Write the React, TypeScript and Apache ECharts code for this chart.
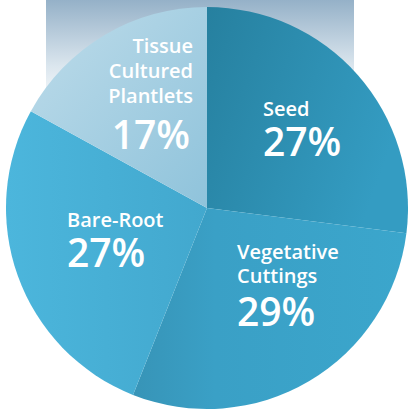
import React, { useEffect, useRef } from "react";
import * as echarts from "echarts";

const categories = ["Seed", "Vegetative Cuttings", "Bare-Root", "Tissue Cultured Plantlets"];
const values = [27, 29, 27, 17];
const percentLabels = ["27%", "29%", "27%", "17%"];

// label layout: anchor x, alignment, baselines of name lines, baseline of percent
const labelX = [263, 237, 67, 193];
const labelAlign = ["left", "left", "left", "right"];
const nameBaselines = [[116], [259, 283], [227], [53, 78, 103]];
const pctBaselines = [155, 325, 266, 148];

const sliceColors = [
  { type: "linear", x: 0, y: 0, x2: 1, y2: 0.4, colorStops: [{ offset: 0, color: "#26809f" }, { offset: 1, color: "#349cc2" }] },
  { type: "linear", x: 0, y: 0.3, x2: 1, y2: 0.3, colorStops: [{ offset: 0, color: "#3794b7" }, { offset: 0.3, color: "#3aa0c6" }, { offset: 1, color: "#3ba6cc" }] },
  { type: "linear", x: 0, y: 0, x2: 1, y2: 0, colorStops: [{ offset: 0, color: "#4cb6dc" }, { offset: 1, color: "#42a8ce" }] },
  { type: "linear", x: 0, y: 0, x2: 1, y2: 1, colorStops: [{ offset: 0, color: "#bedcea" }, { offset: 1, color: "#8fc3db" }] },
];

const NAME_SIZE = 20;
const PCT_SIZE = 39;

export default function App() {
  const ref = useRef<HTMLDivElement>(null);
  useEffect(() => {
    if (!ref.current) return;
    const chart = echarts.init(ref.current, undefined, { renderer: "svg" });
    const texts: any[] = [];
    const shadow = { shadowBlur: 6, shadowColor: "rgba(0,40,70,0.45)" };
    categories.forEach((cat, i) => {
      const words = cat.split(" ");
      words.forEach((w, j) => {
        texts.push({
          type: "text",
          z: 100,
          style: {
            text: w,
            x: labelX[i],
            y: nameBaselines[i][j] - NAME_SIZE * 0.36,
            fill: "#ffffff",
            font: `600 ${NAME_SIZE}px "Open Sans"`,
            lineHeight: 17,
            textAlign: labelAlign[i],
            textVerticalAlign: "middle",
            ...shadow,
          },
        });
      });
      texts.push({
        type: "text",
        z: 100,
        style: {
          text: percentLabels[i],
          x: labelX[i] + (i === 3 ? -3 : 0),
          y: pctBaselines[i] - PCT_SIZE * 0.36,
          fill: "#ffffff",
          font: `600 ${PCT_SIZE}px "Open Sans"`,
          lineHeight: 30,
          textAlign: labelAlign[i],
          textVerticalAlign: "middle",
          ...shadow,
        },
      });
    });
    chart.setOption({
      animation: false,
      backgroundColor: "#ffffff",
      graphic: [
        {
          type: "rect",
          z: -10,
          silent: true,
          shape: { x: 46, y: 0, width: 308, height: 110 },
          style: {
            fill: {
              type: "linear", x: 0, y: 0, x2: 0, y2: 1,
              colorStops: [
                { offset: 0, color: "#95b1c8" },
                { offset: 0.6, color: "#dbe6ee" },
                { offset: 1, color: "#ffffff" },
              ],
            },
          },
        },
        ...texts,
      ],
      series: [
        {
          type: "pie",
          center: [207, 208],
          radius: 201,
          startAngle: 90,
          clockwise: true,
          label: { show: false },
          labelLine: { show: false },
          emphasis: { disabled: true },
          itemStyle: { borderWidth: 0 },
          data: categories.map((c, i) => ({ name: c, value: values[i], itemStyle: { color: sliceColors[i] } })),
        },
      ],
    });
    return () => chart.dispose();
  }, []);
  return <div ref={ref} style={{ position: "fixed", left: 0, top: 0, width: 408, height: 410 }} />;
}
